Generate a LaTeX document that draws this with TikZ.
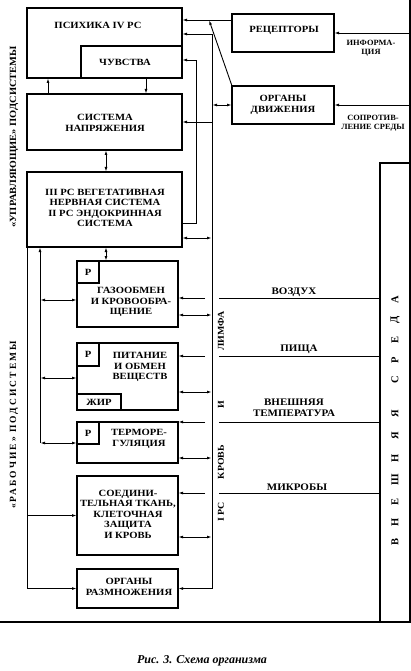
\documentclass[tikz,border=0pt]{standalone}
\usepackage{fontspec}
\setmainfont{Liberation Serif}
\usetikzlibrary{arrows.meta}
\newcommand{\boxfont}{\fontsize{9.5}{10.5}\selectfont\bfseries\addfontfeature{FakeStretch=1.12}}
\newcommand{\lblfont}{\fontsize{8}{9.5}\selectfont\bfseries\addfontfeature{FakeStretch=1.05}}
\newcommand{\envfont}{\fontsize{10}{10.5}\selectfont\bfseries\addfontfeature{FakeStretch=1.1}}
\newcommand{\busfont}{\fontsize{9}{9}\selectfont\bfseries\addfontfeature{FakeStretch=1.1}}

\tikzset{
  blok/.style={draw, line width=1.3pt, anchor=north west, inner sep=0pt, outer sep=0pt},
  txt/.style={font=\boxfont, align=center, inner sep=0pt},
  lbl/.style={font=\lblfont, align=center, inner sep=0pt},
  envlbl/.style={font=\envfont, align=center, inner sep=0pt},
  vlbl/.style={font=\busfont, rotate=90, inner sep=0pt},
}

\begin{document}
\begin{tikzpicture}[x=1pt, y=-1pt, line width=0.9pt, >={Latex[length=5pt,width=2.8pt]}]
\useasboundingbox (0,0) rectangle (411,671);

% upravlyayushchie
\node[blok, minimum width=155, minimum height=70] (psy) at (27,8) {};
\node[blok, minimum width=101, minimum height=32] (feel) at (81,46) {};
\node[blok, minimum width=155, minimum height=56] (nap) at (27,94) {};
\node[blok, minimum width=155, minimum height=75] (veg) at (27,172) {};
\node[txt] (psyt) at (98,25) {ПСИХИКА IV РС};
\node[txt] (feelt) at (125,62) {ЧУВСТВА};
\node[txt] (napt) at (105,123) {СИСТЕМА\\НАПРЯЖЕНИЯ};
\node[txt] (vegt) at (105,208) {III РС ВЕГЕТАТИВНАЯ\\НЕРВНАЯ СИСТЕМА\\II РС ЭНДОКРИННАЯ\\СИСТЕМА};

\node[blok, minimum width=102, minimum height=38] (rec) at (232,14) {};
\node[blok, minimum width=102, minimum height=38] (org) at (232,86) {};
\node[txt] (rect) at (284,30) {РЕЦЕПТОРЫ};
\node[txt] (orgt) at (283,105) {ОРГАНЫ\\ДВИЖЕНИЯ};

% rabochie
\node[blok, minimum width=101, minimum height=66] (gaz) at (77,261) {};
\node[blok, minimum width=101, minimum height=67] (pit) at (77,343) {};
\node[blok, minimum width=101, minimum height=41] (term) at (77,422) {};
\node[blok, minimum width=101, minimum height=79] (sod) at (77,476) {};
\node[blok, minimum width=101, minimum height=39] (razm) at (77,569) {};
\node[blok, minimum width=22, minimum height=22] (r1) at (77,261) {};
\node[blok, minimum width=22, minimum height=23] (r2) at (77,343) {};
\node[blok, minimum width=22, minimum height=22] (r3) at (77,422) {};
\node[blok, minimum width=44, minimum height=16] (zhir) at (77,394) {};
\node[txt] (r1t) at (88,272) {Р};
\node[txt] (r2t) at (88,354) {Р};
\node[txt] (r3t) at (88,433) {Р};
\node[txt] (zhirt) at (99,402) {ЖИР};
\node[txt] (gazt) at (131,302) {ГАЗООБМЕН\\И КРОВООБРА-\\ЩЕНИЕ};
\node[txt] (pitt) at (140,367) {ПИТАНИЕ\\И ОБМЕН\\ВЕЩЕСТВ};
\node[txt] (termt) at (139,439) {ТЕРМОРЕ-\\ГУЛЯЦИЯ};
\node[txt] (sodt) at (128,514) {СОЕДИНИ-\\ТЕЛЬНАЯ ТКАНЬ,\\КЛЕТОЧНАЯ\\ЗАЩИТА\\И КРОВЬ};
\node[txt] (razmt) at (129,587) {ОРГАНЫ\\РАЗМНОЖЕНИЯ};

% vneshnyaya sreda
\node[blok, minimum width=30, minimum height=459] (sreda) at (380,163) {};
\draw[line width=1.3pt] (sreda.north east) -- (sreda.north east |- 0,0);
\draw[line width=1.4pt] (0,622) -- (411,622);
\foreach \b/\y in {В/542,Н/522,Е/502,Ш/480,Н/458,Я/436,Я/414,С/380,Р/360,Е/340,Д/320,А/300}
{
    \node[rotate=90, font=\bfseries\fontsize{10.5}{10.5}\selectfont, inner sep=0pt] (s\y) at (395,\y) {\b};
}

% podpisi sleva
\node[vlbl, font=\fontsize{9.5}{10}\selectfont\bfseries\addfontfeature{FakeStretch=1.1}] (upr) at (14,137) {«УПРАВЛЯЮЩИЕ» ПОДСИСТЕМЫ};
\node[vlbl, font=\fontsize{9.5}{10}\selectfont\bfseries\addfontfeature{LetterSpace=22}] (rab) at (14,425) {«РАБОЧИЕ» ПОДСИСТЕМЫ};

% shina
\coordinate (bus) at (212,34);
\coordinate (ch) at (196,60);
\coordinate (kn) at (209,20);
\coordinate (lb) at (40,443);
\draw[->] (rec.west |- 0,20) -- (psy.east |- 0,20);
\draw[->] (org.north west) -- (kn);
\draw[<->] (razm.east) -| (bus) -- (psy.east |- bus);
\draw[->] (veg.east |- 0,223) -| (ch) -- (feel.east |- ch);
\draw[->] (bus |- nap.east) -- (nap.east);
\draw[<->] (bus |- org.west) -- (org.west);
\draw[<->] (veg.east |- 0,238) -- (bus |- 0,238);
\draw[->] (410,33) -- (rec.east |- 0,33);
\draw[->] (410,105) -- (org.east);
\node[lbl] (inf) at (371,48) {ИНФОРМА-\\ЦИЯ};
\node[lbl] (sopr) at (373,123) {СОПРОТИВ-\\ЛЕНИЕ СРЕДЫ};

\draw[->] (nap.north -| 48,0) -- (psy.south -| 48,0);
\draw[->] (psy.south -| 146,0) -- (nap.north -| 146,0);
\draw[<->] (nap.south -| 106,0) -- (veg.north -| 106,0);
\draw[<->] (veg.south -| 106,0) -- (gaz.north -| 106,0);

% levye svyazi
\draw[->] (lb) -- (veg.south -| lb);
\draw[<->] (lb) -- (term.west |- lb);
\foreach \y/\nm in {300/gaz, 378/pit}
{
    \draw[<->] (lb |- 0,\y) -- (\nm.west |- 0,\y);
}
\draw[->] (veg.south west) |- (razm.west);
\draw[->] (veg.south west |- sod.west) -- (sod.west);

% pravye svyazi
\foreach \y/\nm in {298/gaz, 356/pit, 422/term, 493/sod}
{
    \draw[->] (205,\y) -- (\nm.east |- 0,\y);
    \draw (sreda.west |- 0,\y) -- (219,\y);
}
\foreach \y/\nm in {315/gaz, 392/pit, 458/term, 537/sod}
{
    \draw[<->] (\nm.east |- 0,\y) -- (bus |- 0,\y);
}
\node[vlbl] (limfa) at (221,331) {ЛИМФА};
\node[vlbl] (i) at (221,405) {И};
\node[vlbl] (krov) at (221,462) {КРОВЬ};
\node[vlbl] (irs) at (221,512) {I РС};

\node[envlbl] (vozd) at (294,292) {ВОЗДУХ};
\node[envlbl] (pishcha) at (299,349) {ПИЩА};
\node[envlbl] (temp) at (294,408) {ВНЕШНЯЯ\\ТЕМПЕРАТУРА};
\node[envlbl] (mikr) at (297,487) {МИКРОБЫ};

\node[font=\itshape\bfseries\fontsize{12}{13}\selectfont] (cap) at (202,661) {Рис. 3. Схема организма};
\end{tikzpicture}
\end{document}
